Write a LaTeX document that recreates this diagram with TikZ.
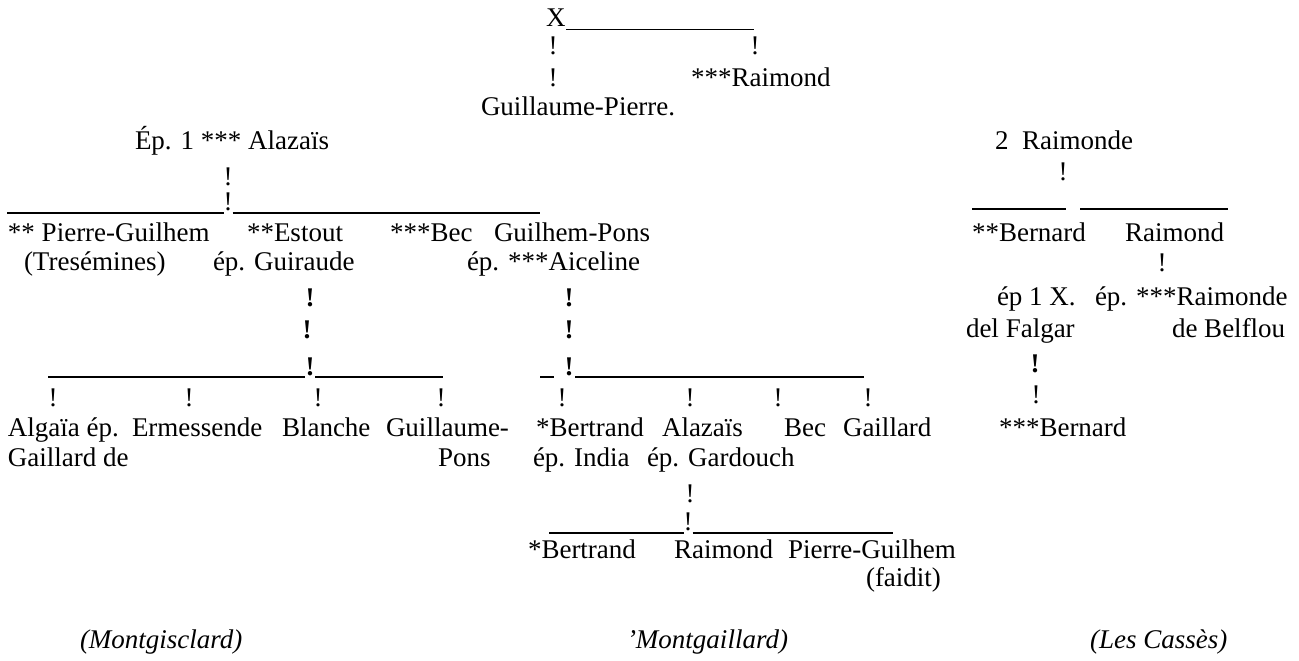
\documentclass[tikz,border=0pt]{standalone}
\usepackage{fontspec}
\setmainfont{Liberation Serif}[Ligatures=ResetAll]
\newcommand{\fsz}{\fontsize{27}{32}\selectfont}
\begin{document}
\begin{tikzpicture}[x=1pt,y=-1pt,
  txt/.style={anchor=base west,inner sep=0pt,outer sep=0pt,font=\fsz},
  bang/.style={anchor=base,inner sep=0pt,outer sep=0pt,font=\fsz},
  bbang/.style={bang,font=\fsz\bfseries},
  itx/.style={txt,font=\fsz\itshape},
  rule/.style={line width=1.3pt,line cap=butt}]
\useasboundingbox (0,0) rectangle (1299,661);
% Row A
\node[txt] (xx) at (546,27) {X};
\coordinate (uA1) at (566,29.5); \coordinate (uA2) at (754,29.5);
\draw[rule] (uA1) -- (uA2);
% Row B, C, D
\node[bang] (bA) at (553,55) {!};
\node[bang] (bB) at (755,55) {!};
\node[bang] (bC) at (553,87) {!};
\node[txt] (raimA) at (691,87) {***Raimond};
\node[txt] (gp) at (481,115) {Guillaume-Pierre.};
% Row E, F
\node[txt] (alaz) at (135,149) {Ép. 1 *** Alazaïs};
\node[txt] (raimonde) at (995,149) {2\ \ Raimonde};
\node[bang] (bD) at (228,185) {!};
\node[bang] (bE) at (1063,180) {!};
% Row G
\node[bang] (bF) at (228,210) {!};
\coordinate (uG1) at (7,213); \coordinate (uG2) at (223.5,213);
\coordinate (uG3) at (232.5,213); \coordinate (uG4) at (540,213);
\coordinate (uG5) at (972,209); \coordinate (uG6) at (1066,209);
\coordinate (uG7) at (1080,209); \coordinate (uG8) at (1228,209);
\draw[rule] (uG1) -- (uG2); \draw[rule] (uG3) -- (uG4);
\draw[rule] (uG5) -- (uG6); \draw[rule] (uG7) -- (uG8);
% Row H
\node[txt] (pg) at (8,241) {** Pierre-Guilhem};
\node[txt] (estout) at (247,241) {**Estout};
\node[txt] (bec) at (390,241) {***Bec};
\node[txt] (gpons) at (494,241) {Guilhem-Pons};
\node[txt] (bernA) at (972,241) {**Bernard};
\node[txt] (raimB) at (1125,241) {Raimond};
% Row I
\node[txt] (tres) at (24,270) {(Tresémines)};
\node[txt] (guir) at (213,270) {ép. Guiraude};
\node[txt] (aic) at (467,270) {ép. ***Aiceline};
\node[bang] (bG) at (1162,271) {!};
% Row J
\node[bbang] (bH) at (310,306) {!};
\node[bbang] (bI) at (569,306) {!};
\node[txt] (ep1) at (997,305) {ép 1 X.};
\node[txt] (raimde) at (1095,305) {ép. ***Raimonde};
% Row K
\node[bbang] (bJ) at (307,338) {!};
\node[bbang] (bK) at (569,338) {!};
\node[txt] (falg) at (966,337) {del Falgar};
\node[txt] (belf) at (1172,337) {de Belflou};
% Row L
\node[bbang] (bL) at (310,375) {!};
\node[bbang] (bM) at (569,375) {!};
\node[bbang] (bN) at (1035,372) {!};
\coordinate (uL1) at (48,377); \coordinate (uL2) at (305,377);
\coordinate (uL3) at (315,377); \coordinate (uL4) at (443,377);
\coordinate (uL5) at (540,377); \coordinate (uL6) at (554,377);
\coordinate (uL7) at (575,377); \coordinate (uL8) at (864,377);
\draw[rule] (uL1) -- (uL2); \draw[rule] (uL3) -- (uL4);
\draw[rule] (uL5) -- (uL6); \draw[rule] (uL7) -- (uL8);
% Row M
\node[bang] (m1) at (53,406) {!};
\node[bang] (m2) at (189,406) {!};
\node[bang] (m3) at (318,406) {!};
\node[bang] (m4) at (441,406) {!};
\node[bang] (m5) at (562,406) {!};
\node[bang] (m6) at (690,406) {!};
\node[bang] (m7) at (778,406) {!};
\node[bang] (m8) at (868,406) {!};
\node[bang] (m9) at (1036,403) {!};
% Row N
\node[txt] (alg) at (8,436) {Algaïa ép.};
\node[txt] (erm) at (132,436) {Ermessende};
\node[txt] (bla) at (282,436) {Blanche};
\node[txt] (gui) at (386,436) {Guillaume-};
\node[txt] (bert) at (536,436) {*Bertrand};
\node[txt] (alz) at (662,436) {Alazaïs};
\node[txt] (becB) at (784,436) {Bec};
\node[txt] (gail) at (843,436) {Gaillard};
\node[txt] (bernB) at (999,436) {***Bernard};
% Row O
\node[txt] (gdl) at (8,466) {Gaillard de};
\node[txt] (pons) at (438,466) {Pons};
\node[txt] (india) at (533,466) {ép. India};
\node[txt] (gard) at (647,466) {ép. Gardouch};
% Row P, Q
\node[bang] (bP) at (690,502) {!};
\node[bang] (bQ) at (688,530) {!};
\coordinate (uQ1) at (549,533); \coordinate (uQ2) at (683.5,533);
\coordinate (uQ3) at (692.5,533); \coordinate (uQ4) at (893,533);
\draw[rule] (uQ1) -- (uQ2); \draw[rule] (uQ3) -- (uQ4);
% Row R, S
\node[txt] (bert2) at (528,558) {*Bertrand};
\node[txt] (raim3) at (674,558) {Raimond};
\node[txt] (pgu) at (788,558) {Pierre-Guilhem};
\node[txt] (faid) at (866,586) {(faidit)};
% Row T
\node[itx] (mont) at (80,648) {(Montgisclard)};
\node[itx] (montg) at (627,648) {'Montgaillard)};
\node[itx] (cass) at (1090,648) {(Les Cassès)};
\end{tikzpicture}
\end{document}
